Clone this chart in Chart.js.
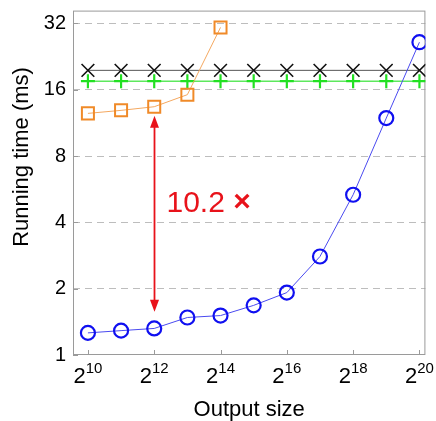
<!DOCTYPE html>
<html><head><meta charset="utf-8">
<script src="https://cdn.jsdelivr.net/npm/chart.js@4/dist/chart.umd.min.js"></script>
<style>html,body{margin:0;padding:0;background:#fff}</style>
</head><body>
<canvas id="c" width="436" height="421"></canvas>
<script>
// ---- data ----
const exponents      = [10, 11, 12, 13, 14, 15, 16, 17, 18, 19, 20];
const blueTimes      = [1.26, 1.29, 1.32, 1.48, 1.51, 1.68, 1.92, 2.80, 5.34, 11.9, 26.3];
const orangeExps     = [10, 11, 12, 13, 14];
const orangeTimes    = [12.5, 12.9, 13.4, 15.2, 30.7];
const blackTimes     = [19.6, 19.6, 19.6, 19.6, 19.6, 19.6, 19.6, 19.6, 19.6, 19.6, 19.6];
const greenTimes     = [17.5, 17.5, 17.5, 17.5, 17.5, 17.5, 17.5, 17.5, 17.5, 17.5, 17.5];
const yTickValues    = [1, 2, 4, 8, 16, 32];
const xTickExponents = [10, 12, 14, 16, 18, 20];
const speedupText    = '10.2';
const arrowExp       = 12;
const arrowFromTime  = 12.2;
const arrowToTime    = 1.57;
const labelExp       = 12.37;
const labelTime      = 4.87;

const FONT = "'Liberation Sans', Arial, sans-serif";
const pts = (xs, ys) => xs.map((x, i) => ({x, y: ys[i]}));

const decor = {
  id: 'decor',
  beforeDatasetsDraw(chart) {
    const {ctx, chartArea: a, scales: {x, y}} = chart;
    ctx.save();
    ctx.strokeStyle = '#9a9a9a';
    ctx.lineWidth = 1;
    ctx.strokeRect(a.left + 0.5, a.top + 0.5, a.right - a.left - 1, a.bottom - a.top - 1);
    ctx.beginPath();
    xTickExponents.forEach(e => {
      const px = Math.round(x.getPixelForValue(e)) + 0.5;
      ctx.moveTo(px, a.bottom); ctx.lineTo(px, a.bottom - 5);
    });
    yTickValues.forEach(v => {
      const py = Math.round(y.getPixelForValue(v)) + 0.5;
      ctx.moveTo(a.left, py); ctx.lineTo(a.left + 5, py);
    });
    ctx.stroke();
    ctx.restore();
  },
  afterDraw(chart) {
    const {ctx, chartArea: a, scales: {x, y}} = chart;
    ctx.save();
    ctx.fillStyle = '#000';
    ctx.textBaseline = 'alphabetic';
    xTickExponents.forEach(e => {
      const px = x.getPixelForValue(e);
      ctx.font = '22px ' + FONT;
      const w1 = ctx.measureText('2').width;
      ctx.font = '15px ' + FONT;
      const w2 = ctx.measureText(String(e)).width;
      const start = px - (w1 + w2) / 2;
      ctx.font = '22px ' + FONT;
      ctx.textAlign = 'left';
      ctx.fillText('2', start, 383);
      ctx.font = '15px ' + FONT;
      ctx.fillText(String(e), start + w1, 373);
    });
    ctx.font = '22px ' + FONT;
    ctx.textAlign = 'center';
    ctx.textBaseline = 'middle';
    ctx.fillText('Output size', (a.left + a.right) / 2, 410);
    ctx.save();
    ctx.translate(22, 157);
    ctx.rotate(-Math.PI / 2);
    ctx.fillText('Running time (ms)', 0, 0);
    ctx.restore();
    const red = '#e8121a';
    const ax = Math.round(x.getPixelForValue(arrowExp)) + 0.5;
    const y1 = y.getPixelForValue(arrowFromTime);
    const y2 = y.getPixelForValue(arrowToTime);
    ctx.strokeStyle = red; ctx.fillStyle = red; ctx.lineWidth = 1.8;
    ctx.beginPath(); ctx.moveTo(ax, y1 + 8); ctx.lineTo(ax, y2 - 8); ctx.stroke();
    ctx.beginPath(); ctx.moveTo(ax, y1); ctx.lineTo(ax - 4.5, y1 + 12); ctx.lineTo(ax + 4.5, y1 + 12); ctx.closePath(); ctx.fill();
    ctx.beginPath(); ctx.moveTo(ax, y2); ctx.lineTo(ax - 4.5, y2 - 12); ctx.lineTo(ax + 4.5, y2 - 12); ctx.closePath(); ctx.fill();
    const lx = x.getPixelForValue(labelExp);
    const ly = y.getPixelForValue(labelTime);
    ctx.textAlign = 'left';
    ctx.textBaseline = 'middle';
    ctx.font = '30px ' + FONT;
    ctx.fillText(speedupText, lx, ly);
    const tw = ctx.measureText(speedupText + ' ').width;
    ctx.font = 'bold 30px ' + FONT;
    ctx.fillText('\u00d7', lx + tw, ly - 1);
    ctx.restore();
  }
};

new Chart(document.getElementById('c'), {
  type: 'line',
  data: {
    datasets: [
      {
        label: 'blue', data: pts(exponents, blueTimes),
        borderColor: '#4a4af0', borderWidth: 1,
        pointStyle: 'circle', pointRadius: 7, pointBorderWidth: 2.2,
        pointBorderColor: '#1010f0', pointBackgroundColor: 'rgba(0,0,0,0)'
      },
      {
        label: 'orange', data: pts(orangeExps, orangeTimes),
        borderColor: '#f4a860', borderWidth: 1,
        pointStyle: 'rect', pointRadius: 8.5, pointBorderWidth: 2,
        pointBorderColor: '#f08a28', pointBackgroundColor: 'rgba(0,0,0,0)'
      },
      {
        label: 'black', data: pts(exponents, blackTimes),
        borderColor: '#555', borderWidth: 1,
        pointStyle: 'crossRot', pointRadius: 9, pointBorderWidth: 1.6,
        pointBorderColor: '#111'
      },
      {
        label: 'green', data: pts(exponents, greenTimes),
        borderColor: '#5ee85e', borderWidth: 1.6,
        pointStyle: 'cross', pointRadius: 7, pointBorderWidth: 2.2,
        pointBorderColor: '#22e022'
      }
    ]
  },
  options: {
    responsive: false, animation: false, devicePixelRatio: 1,
    layout: {padding: {top: 9, right: 9, left: 0, bottom: 0}},
    plugins: {legend: {display: false}, tooltip: {enabled: false}},
    scales: {
      x: {
        type: 'linear', min: 9.55, max: 20.18,
        afterBuildTicks: s => { s.ticks = xTickExponents.map(v => ({value: v})); },
        afterFit: s => { s.height = 66; s.paddingLeft = 0; s.paddingRight = 0; },
        ticks: {display: false},
        grid: {display: false},
        border: {display: false}
      },
      y: {
        type: 'logarithmic', min: 1, max: 36.6,
        afterBuildTicks: s => { s.ticks = yTickValues.map(v => ({value: v})); },
        afterFit: s => { s.width = 73; s.paddingTop = 0; s.paddingBottom = 0; },
        ticks: {
          color: '#000', padding: 7, font: {family: FONT, size: 20},
          callback: v => String(v)
        },
        grid: {
          drawTicks: false, lineWidth: 1,
          color: c => (c.tick && c.tick.value === 1) ? 'rgba(0,0,0,0)' : '#bdbdbd'
        },
        border: {display: false, dash: [7, 5]}
      }
    }
  },
  plugins: [decor]
});
</script>
</body></html>
